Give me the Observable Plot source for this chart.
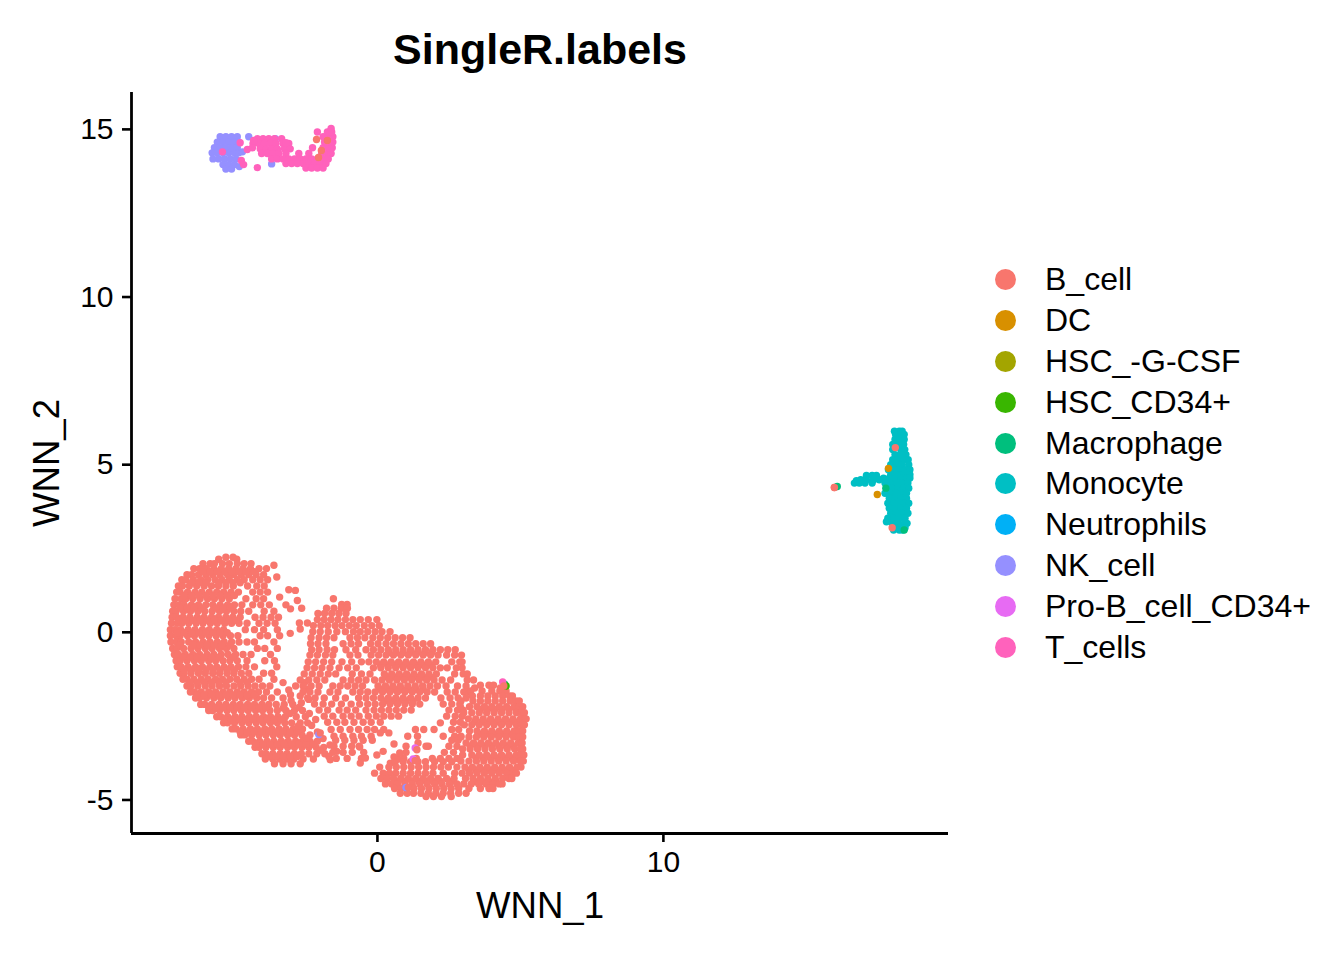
<!DOCTYPE html>
<html><head><meta charset="utf-8">
<script src="https://cdn.jsdelivr.net/npm/d3@7"></script>
<script src="https://cdn.jsdelivr.net/npm/@observablehq/plot@0.6"></script>
<style>
html,body{margin:0;background:#fff;font-family:"Liberation Sans",Arial,sans-serif;color:#000}
#title{width:1080px;height:92px;box-sizing:border-box;padding-top:24px;text-align:center;font-weight:bold;font-size:43px;line-height:50px}
#row{display:flex;width:1344px}
#legend{padding:167px 0 0 35px}
.item{display:flex;align-items:center;height:40.9px;font-size:32px;white-space:nowrap}
.sw{width:21px;height:21px;border-radius:50%;margin-right:29px;flex:none}
</style></head><body>
<div id="title"></div>
<div id="row"><div id="chart"></div><div id="legend"></div></div>
<script>
const chartTitle = "SingleR.labels";
const xLabel = "WNN_1", yLabel = "WNN_2";
const xTicks = [0, 10];
const yTicks = [-5, 0, 5, 10, 15];
const labels = ["B_cell","DC","HSC_-G-CSF","HSC_CD34+","Macrophage","Monocyte","Neutrophils","NK_cell","Pro-B_cell_CD34+","T_cells"];
const colors = ["#F8766D","#D89000","#A3A500","#39B600","#00BF7D","#00BFC4","#00B0F6","#9590FF","#E76BF3","#FF62BC"];

// rows: [y, x, x, x ...]
const bLeftLobe = [
[2.24,-5.3,-5.05],[2.18,-5.55,-4.92],
[2.05,-6.1,-5.85,-5.7,-5.42,-5.18,-4.9,-4.66,-4.42],
[1.9,-6.42,-6.22,-5.98,-5.72,-5.46,-5.2,-4.95,-4.7,-4.44,-4.14,-3.88],
[1.72,-6.66,-6.5,-6.26,-6,-5.76,-5.5,-5.24,-5.02,-4.76,-4.5,-4.24,-3.98],
[1.57,-6.84,-6.7,-6.44,-6.18,-5.94,-5.68,-5.44,-5.18,-4.9,-4.66,-4.36,-4.1,-3.84],
[1.38,-6.96,-6.82,-6.58,-6.32,-6.06,-5.8,-5.56,-5.3,-5.04,-4.54,-4.22,-3.96],
[1.2,-7.02,-6.9,-6.64,-6.38,-6.14,-5.88,-5.62,-5.38,-5.12,-4.86,-4.36,-4.1,-3.84],
[1.0,-7.08,-6.86,-6.7,-6.46,-6.2,-5.94,-5.7,-5.44,-5.18,-4.6,-4.24,-3.98],
[0.82,-7.12,-6.94,-6.76,-6.5,-6.26,-6,-5.76,-5.5,-5.24,-5,-4.74,-4.36,-4.08,-3.78],
[0.63,-7.16,-7.04,-6.78,-6.54,-6.28,-6.04,-5.78,-5.52,-5.28,-5.02,-4.78,-4.5,-3.96,-3.62],
[0.45,-7.18,-7.02,-6.8,-6.56,-6.3,-6.06,-5.8,-5.56,-5.3,-5.06,-4.8,-4.28,-4,-3.72,-3.46],
[0.27,-7.2,-7.0,-6.84,-6.6,-6.34,-6.1,-5.84,-5.6,-5.34,-5.1,-4.84,-4.56,-4.14,-3.86,-3.58],
[0.08,-7.24,-7.08,-6.88,-6.62,-6.38,-6.12,-5.88,-5.62,-5.38,-4.62,-4.3,-3.98,-3.5],
[-0.1,-7.24,-7.04,-6.9,-6.64,-6.4,-6.14,-5.9,-5.64,-5.4,-5.14,-4.88,-4.1,-3.84,-3.42],
[-0.29,-7.22,-7.02,-6.86,-6.6,-6.36,-6.1,-5.86,-5.6,-5.36,-5.1,-4.84,-4.56,-4.3,-3.62],
[-0.48,-7.16,-7.02,-6.78,-6.52,-6.28,-6.02,-5.78,-5.52,-5.28,-5.02,-4.2,-3.94,-3.5],
[-0.66,-7.1,-6.96,-6.72,-6.46,-6.22,-5.96,-5.72,-5.46,-5.22,-4.96,-4.7,-4.42,-3.74],
[-0.85,-7.04,-6.9,-6.66,-6.4,-6.16,-5.9,-5.66,-5.4,-5.16,-4.9,-4.56,-3.94,-3.6],
[-1.03,-7.0,-6.86,-6.62,-6.36,-6.12,-5.86,-5.62,-5.36,-5.12,-4.86,-4.6,-4.3,-3.52],
[-1.22,-6.9,-6.76,-6.52,-6.26,-6.02,-5.76,-5.52,-5.26,-5.02,-4.76,-4.5,-3.98,-3.7],
[-1.4,-6.8,-6.66,-6.42,-6.16,-5.92,-5.66,-5.42,-5.16,-4.92,-4.66,-4.4,-4.14,-3.62],
[-1.6,-6.66,-6.52,-6.28,-6.02,-5.78,-5.52,-5.28,-5.02,-4.78,-4.52,-4.28,-4.02,-3.76],
[-1.78,-6.54,-6.4,-6.16,-5.9,-5.66,-5.4,-5.16,-4.9,-4.66,-4.4,-4.16,-3.88,-3.5],
[-1.96,-6.36,-6.22,-5.98,-5.72,-5.48,-5.22,-4.98,-4.72,-4.48,-4.22,-3.98,-3.7,-3.3],
[-2.15,-6.18,-6.04,-5.8,-5.54,-5.3,-5.04,-4.8,-4.54,-4.3,-4.04,-3.8,-3.54,-3.26,-2.96],
[-2.33,-5.9,-5.76,-5.52,-5.26,-5.02,-4.76,-4.52,-4.26,-4.02,-3.76,-3.5,-3.2,-2.9,-2.62],
[-2.52,-5.62,-5.48,-5.24,-4.98,-4.74,-4.48,-4.24,-3.98,-3.74,-3.48,-3.22,-2.84,-2.52],
[-2.7,-5.38,-5.24,-5,-4.74,-4.5,-4.24,-4,-3.74,-3.5,-3.24,-3,-2.7,-2.44],
[-2.88,-5.08,-4.94,-4.7,-4.44,-4.2,-3.94,-3.7,-3.44,-3.2,-2.94,-2.62],
[-3.06,-4.78,-4.64,-4.4,-4.14,-3.9,-3.64,-3.4,-3.14,-2.9,-2.64,-2.36],
[-3.25,-4.5,-4.36,-4.12,-3.86,-3.62,-3.36,-3.12,-2.86,-2.62,-2.36,-2.1],
[-3.43,-4.28,-4.14,-3.9,-3.64,-3.4,-3.14,-2.9,-2.64,-2.4,-2.14,-1.88],
[-3.62,-4.04,-3.9,-3.66,-3.4,-3.16,-2.9,-2.66,-2.4,-2.12,-1.84],
[-3.78,-3.92,-3.66,-3.42,-3.16,-2.92,-2.6,-2.24],
[-3.92,-3.6,-3.3,-3.02,-2.7],
];
const bDenseFill = [
[1.81,-6.1,-5.85,-5.6,-5.33,-5.1,-4.85,-4.6,-4.3],
[1.48,-6.5,-6.25,-6,-5.55,-5.3,-5.05,-4.8],
[1.1,-6.75,-6.5,-6.25,-6,-5.75,-5.5,-5.25,-5],
[0.73,-6.9,-6.65,-6.4,-6.15,-5.65,-5.4,-5.15],
[0.36,-6.95,-6.7,-6.45,-6.2,-5.95,-5.7,-5.45,-5.2,-4.95],
[-0.01,-7,-6.75,-6.5,-6.25,-6,-5.75,-5.5,-5.25],
[-0.38,-6.9,-6.45,-6.2,-5.95,-5.7,-5.45,-5.15],
[-0.75,-6.8,-6.55,-6.3,-6.05,-5.8,-5.55,-5.05],
[-1.12,-6.75,-6.5,-6.25,-6,-5.75,-5.5,-5.25,-5],
[-1.5,-6.55,-6.3,-6.05,-5.8,-5.55,-5.3,-4.8,-4.55],
[-1.87,-6.3,-6.05,-5.8,-5.55,-5.3,-5.05,-4.8,-4.55,-4.3],
[-2.24,-5.9,-5.65,-5.4,-5.15,-4.9,-4.65,-4.4,-4.15,-3.9],
[-2.6,-5.35,-5.1,-4.85,-4.6,-4.35,-4.1,-3.85,-3.6,-3.35],
[-2.97,-4.8,-4.55,-4.3,-4.05,-3.8,-3.55,-3.3,-3.05,-2.8],
[-3.34,-4.25,-4,-3.75,-3.5,-3.25,-3,-2.75,-2.5],
[-3.7,-3.8,-3.55,-3.3,-3.05,-2.8],
[-0.6,0.4,0.65,0.9,1.15,1.4,1.65,1.9],
[-0.97,0.1,0.35,0.6,0.85,1.1,1.35,1.6,1.85],
[-1.33,0.35,0.6,0.85,1.1,1.35,1.6,1.85],
[-1.7,0.1,0.35,0.6,0.85,1.1,1.35,1.6],
[-2.05,0.25,0.5,0.75,1,1.25],
[-2.3,3.6,3.85,4.1,4.35,4.6,4.85],
[-2.67,3.4,3.65,3.9,4.15,4.4,4.65,4.9],
[-3.03,3.6,3.85,4.1,4.35,4.6,4.85],
[-3.39,3.25,3.5,3.75,4,4.25,4.5,4.75],
[-3.75,3.45,3.7,3.95,4.2,4.45,4.7,4.9],
[-4.11,3.2,3.45,3.7,3.95,4.2,4.45,4.7],
[-4.45,3.4,3.65,3.9,4.15],
[-4.44,0.7,0.95,1.2,1.45,1.7,1.95,2.2,2.6],
];
const bGapIsolated = [
[2.0,-3.62],[1.65,-3.52],[1.05,-3.42],[1.27,-3.1],[1.25,-2.87],[0.95,-2.8],[0.82,-3.2],[0.7,-3.04],[0.72,-2.65],
[0.1,-2.7],[0.28,-2.45],[0.28,-2.73],[-0.03,-3.05],
[-1.72,-3.1],[-1.5,-3.3],[-2.0,-2.4],[-1.9,-2.7],[-1.7,-2.42],[-1.5,-2.55],
[-2.03,-3.02],[-2.24,-2.74],[-2.42,-2.38],[-2.6,-2.16],[-2.78,-2.3],[-2.97,-2.1],[-3.17,-1.9],[-3.36,-1.66],[-3.55,-1.42],
[-2.1,-2.66],[-1.86,-3.04],[-2.26,-3.3],[-2.42,-3.06],[-2.8,-2.78],[-3.16,-2.5],[-3.34,-2.26],[-3.52,-2.02],[-3.7,-1.7],
];
const bMiddle = [
[1.0,-1.54],[0.83,-1.25,-1.06],
[0.72,-1.78,-1.52,-1.26,-1.05],
[0.56,-2.08,-1.85,-1.6,-1.35,-1.1],
[0.38,-2.1,-1.86,-1.62,-1.38,-1.12,-0.86,-0.6,-0.32,-0.02],
[0.2,-2.24,-1.98,-1.74,-1.48,-1.24,-0.98,-0.74,-0.46,-0.2,0.06],
[0.02,-2.26,-2,-1.72,-1.42,-1.12,-0.84,-0.6,-0.34,-0.08,0.16,0.44],
[-0.16,-2.32,-2.04,-1.78,-1.52,-0.96,-0.7,-0.44,-0.16,0.1,0.36,0.62,0.88,1.14],
[-0.34,-2.34,-2.08,-1.8,-1.2,-0.92,-0.66,-0.24,0.02,0.3,0.56,0.82,1.08,1.34,1.6,1.86],
[-0.52,-2.3,-2.04,-1.76,-1.5,-1.1,-0.76,-0.4,-0.14,0.12,0.38,0.64,0.9,1.16,1.42,1.68,1.94,2.2,2.46,2.72],
[-0.68,-2.36,-2.1,-1.82,-1.56,-0.96,-0.68,-0.22,0.04,0.3,0.56,0.82,1.08,1.34,1.6,1.86,2.12,2.42,2.7,2.94],
[-0.88,-2.42,-2.16,-1.88,-1.6,-1.24,-0.9,-0.56,-0.3,-0.04,0.22,0.48,0.74,1,1.26,1.52,1.78,2.04,2.6,2.88,2.96],
[-1.06,-2.46,-2.2,-1.94,-1.66,-1.34,-1.04,-0.74,-0.14,0.12,0.38,0.64,0.9,1.16,1.42,1.68,1.94,2.2,2.44,2.76,2.96],
[-1.24,-2.56,-2.28,-2,-1.72,-1.46,-0.88,-0.56,-0.26,0.24,0.5,0.76,1.02,1.28,1.54,1.8,2.06,2.7,3,3.14],
[-1.42,-2.7,-2.4,-2.12,-1.84,-1.2,-0.92,-0.66,-0.4,-0.1,0.16,0.42,0.68,0.94,1.2,1.46,1.72,1.98,2.26,2.56,3.14,3.36],
[-1.6,-2.86,-2.6,-2.32,-2.04,-1.56,-1.3,-1.04,-0.78,-0.52,0.02,0.28,0.54,0.8,1.06,1.32,1.58,1.84,2.1,2.4,2.8,3.1],
[-1.78,-2.6,-2.36,-2.08,-1.66,-1.38,-0.86,-0.6,-0.34,-0.08,0.18,0.44,0.7,0.96,1.22,1.48,1.74,2,2.44,2.72,3.02,3.2],
[-1.96,-2.44,-2.18,-1.86,-1.46,-1.12,-0.66,-0.4,-0.14,0.12,0.38,0.64,0.9,1.16,1.42,1.68,2.22,2.54,2.82,3.1],
[-2.14,-2.2,-1.9,-1.6,-1.26,-0.92,-0.62,-0.34,-0.08,0.18,0.44,0.7,0.96,1.22,1.48,2.3,2.6,2.88],
[-2.32,-2.04,-1.74,-1.34,-1.06,-0.76,-0.4,-0.12,0.14,0.4,0.66,0.92,1.18,2.5,2.8,3],
[-2.5,-1.86,-1.56,-1.2,-0.92,-0.64,-0.32,-0.04,0.22,0.48,0.74,2.42,2.72,2.96],
[-2.68,-1.74,-1.42,-1.14,-0.82,-0.5,-0.22,0.1,2.66,2.9],
[-2.9,-1.62,-1.3,-0.96,-0.66,-0.36,-0.1,0.22,1.33,1.62,1.98,2.6,2.84],
[-3.1,-1.52,-1.2,-0.86,-0.56,-0.22,1.06,1.4,2.3,2.7,2.92],
[-3.22,-1.46,-1.14,-0.82,-0.5,-0.18,2.6,2.82],
[-3.4,-1.52,-1.2,-0.9,-0.64,1,1.78,2.5,2.78],
[-3.58,-1.56,-1.2,-0.88,-0.48,1,2.34,2.66],
[-3.76,-1.44,-1.06,-0.56,0.92,1.36,1.92,2.2,2.5,2.78],
];
const bMiddleSparse = [
[-3.66,-0.02],[-3.33,0.58],[-3.55,0.2],[-3.9,-0.6],[-3.75,-0.42],[-3.8,-1.65],[-3.78,0.72],[-3.42,-0.62],[-3.9,0.45],
[-3.0,0.1],[-3.0,0.4],[-3.3,1.42],[-3.4,1.7],[-2.7,2.2],
];
const bRightLobe = [
[-1.58,3.6,3.9,4.06],[-1.66,4.3,3.4],
[-1.75,3.26,3.66,4,4.28,4.5],
[-1.9,3.32,3.6,3.86,4.12,4.38,4.62,4.72],
[-2.05,2.92,3.34,3.6,3.86,4.12,4.38,4.64,4.84,4.96],
[-2.22,2.9,3.22,3.48,3.74,4,4.26,4.52,4.78,4.96,5.08],
[-2.4,3.02,3.3,3.56,3.82,4.08,4.34,4.6,4.86,5.04,5.14],
[-2.58,3.18,3.44,3.7,3.96,4.22,4.48,4.74,5,5.16,5.2],
[-2.76,3.04,3.3,3.56,3.82,4.08,4.34,4.6,4.86,5.04,5.14],
[-2.94,3.22,3.48,3.74,4,4.26,4.52,4.78,4.94,5.08],
[-3.12,2.92,3.2,3.46,3.72,3.98,4.24,4.5,4.76,4.94,5.08],
[-3.3,3.1,3.36,3.62,3.88,4.14,4.4,4.66,4.92,5.06],
[-3.48,2.98,3.24,3.5,3.76,4.02,4.28,4.54,4.8,5.0,5.08],
[-3.66,2.98,3.3,3.56,3.82,4.08,4.34,4.6,4.86,5.02,5.12],
[-3.84,2.92,3.2,3.46,3.72,3.98,4.24,4.5,4.76,5.0,5.1],
[-4.02,2.78,3.06,3.32,3.58,3.84,4.1,4.36,4.62,4.88,5.02],
[-4.2,2.7,2.96,3.22,3.48,3.74,4,4.26,4.52,4.74,4.86],
[-4.36,3.08,3.34,3.6,3.86,4.12,4.38,4.6,4.7],
[-4.52,3.02,3.28,3.54,3.8,4.06,4.26,4.36],
[-4.66,3.2,3.6,3.9,4.04],
];
const bBottomArc = [
[-3.6,0.78],[-3.72,0.58],
[-3.86,0.62,0.9,1.16,1.42,1.68,2,2.3,2.6],
[-4.02,0.08,0.4,0.66,0.92,1.18,1.44,1.7,1.96,2.22,2.48],
[-4.2,-0.1,0.2,0.42,0.64,0.9,1.16,1.42,1.68,1.94,2.3],
[-4.36,0.12,0.34,0.56,0.82,1.08,1.34,1.6,1.86,2.12,2.42,2.68],
[-4.52,0.28,0.5,0.7,0.96,1.22,1.48,1.74,2,2.26,2.52,2.78],
[-4.66,0.6,0.82,1.02,1.28,1.54,1.8,2.06,2.32,2.58,2.84],
[-4.8,0.8,1.04,1.26,1.52,1.78,2.04,2.3,2.56,2.84,3.1],
[-4.9,1.7,1.96,2.24,2.58],
];
const bOutliers = [[4.32,15.98],[5.51,18.11],[3.12,18.0],[14.7,-2.13],[14.67,-1.75],[14.16,-2.06],[14.37,-1.96]];

const tCells = [
[14.72,-4.2,-4.0,-3.8,-3.6,-3.35],
[14.58,-4.35,-4.15,-3.95,-3.75,-3.55,-3.3,-3.1],
[14.42,-4.1,-3.9,-3.7,-3.5,-3.25,-3.05],
[14.28,-4.05,-3.85,-3.65,-3.45,-3.2,-2.75,-2.4,-1.95,-1.75,-1.62],
[14.12,-3.7,-3.5,-3.3,-3.1,-2.9,-2.7,-2.5,-2.3,-2.1,-1.9,-1.72],
[13.98,-3.2,-3.0,-2.8,-2.6,-2.4,-2.2,-2.0,-1.8],
[13.85,-2.5,-2.3,-2.1,-1.9],
[14.45,-2.27,-1.9,-1.7,-1.58],
[14.62,-1.85,-1.65,-1.56],
[14.78,-1.9,-1.7,-1.56],
[14.92,-2.1,-1.75,-1.6],
[15.03,-1.62],
[14.6,-4.8,-3.2],[14.07,-4.76],[13.95,-4.68],[13.86,-4.2],[14.33,-5.42],[14.4,-4.55],[14.45,-4.37],[14.67,-4.33],
];
const nkCells = [
[14.78,-5.5,-5.3,-5.1,-4.9],
[14.62,-5.6,-5.4,-5.2,-5.0,-4.85],
[14.45,-5.7,-5.5,-5.3,-5.1,-4.9],
[14.3,-5.78,-5.6,-5.4,-5.2,-5.0,-4.85],
[14.12,-5.75,-5.55,-5.35,-5.15,-4.95],
[13.95,-5.4,-5.2,-5.0],
[13.82,-5.3,-5.1],
[14.78,-4.5],[14.33,-4.72],[13.89,-4.83],[13.97,-3.7],[14.36,-3.5],[14.72,-3.57],
];
const monocytes = [
[6.0,18.08,18.25,18.35],[5.9,18.12,18.3,18.42],[5.75,18.1,18.28,18.42],[5.6,18.02,18.18,18.4],[5.45,18.02,18.3,18.44],
[5.3,18.1,18.3,18.48],[5.15,18.02,18.2,18.4,18.56],[5.0,17.95,18.15,18.35,18.58],[4.85,17.87,18.05,18.25,18.45,18.62],
[4.7,17.95,18.15,18.35,18.55,18.62],[4.6,17.7,17.9,18.1,18.3,18.5,18.62],[4.68,17.1,17.3,17.45],[4.55,16.9,17.1,17.35,17.55],
[4.45,16.68,16.85,17.05,17.3,17.75,17.95,18.15,18.35,18.55],[4.52,16.75,16.95],[4.3,17.8,18.0,18.2,18.4,18.58],
[4.15,17.75,17.95,18.15,18.35,18.5],[4.0,17.9,18.1,18.3,18.5],[3.85,17.85,18.05,18.25,18.45,18.58],[3.7,17.9,18.1,18.3,18.5],
[3.55,17.95,18.15,18.35,18.55],[3.4,17.85,18.05,18.25,18.45],[3.25,18.0,18.2,18.42,18.52],[3.12,18.1,18.3,18.45],[3.05,18.05,18.25,18.36],[3.3,17.8],
];
const dcCells = [[4.89,17.87],[4.11,17.48]];
const macrophages = [[4.35,16.08],[3.05,18.42],[4.3,17.78],[-1.55,4.45]];
const proB = [[-3.45,1.32],[-3.78,1.25]];
const hscCd34 = [[-1.6,4.5]];
const tExtra = [[-1.48,4.38]];
const nkExtra = [[-3.05,-2.05],[-4.63,1.0]];
const bOnTop = [[-3.5,1.38],[-3.83,1.32],[-4.63,1.08],[-1.6,4.42],[-3.0,-2.0],[4.32,15.98]];

const pts = (rows, k) => rows.flatMap(([y, ...xs]) => xs.map(x => ({x, y, k})));
const pairs = (list, k) => list.map(([y, x]) => ({x, y, k}));
const points = [
  ...pts(bLeftLobe,"B_cell"), ...pts(bDenseFill,"B_cell"), ...pairs(bGapIsolated,"B_cell"), ...pts(bMiddle,"B_cell"),
  ...pairs(bMiddleSparse,"B_cell"), ...pts(bRightLobe,"B_cell"), ...pts(bBottomArc,"B_cell"),
  ...pts(nkCells,"NK_cell"), ...pts(tCells,"T_cells"), ...pts(monocytes,"Monocyte"),
  ...pairs(bOutliers,"B_cell"),
  ...pairs(macrophages,"Macrophage"), ...pairs(dcCells,"DC"), ...pairs(hscCd34,"HSC_CD34+"),
  ...pairs(tExtra,"T_cells"), ...pairs(nkExtra,"NK_cell"), ...pairs(proB,"Pro-B_cell_CD34+"),
  ...pairs(bOnTop,"B_cell"),
];

document.getElementById("title").textContent = chartTitle;

const chart = Plot.plot({
  width: 960, height: 868,
  marginLeft: 131, marginRight: 12, marginTop: 0, marginBottom: 127,
  style: {background:"#fff", fontFamily:'"Liberation Sans",Arial,sans-serif', color:"#000", overflow:"visible"},
  x: {domain:[-8.6,19.97]},
  y: {domain:[-6.0,16.1]},
  color: {domain: labels, range: colors},
  marks: [
    Plot.dot(points, {x:"x", y:"y", fill:"k", r:3.7}),
    Plot.ruleX([-8.6], {strokeWidth:2.8, stroke:"#000"}),
    Plot.ruleY([-6.0], {strokeWidth:2.8, stroke:"#000"}),
    Plot.axisX({ticks:xTicks, tickFormat:d=>String(d), tickSize:9, tickPadding:8, strokeWidth:2.6, fontSize:30, label:null, stroke:"#000", fill:"#000"}),
    Plot.axisY({ticks:yTicks, tickFormat:d=>String(d), tickSize:9, tickPadding:9, strokeWidth:2.6, fontSize:30, label:null, stroke:"#000", fill:"#000"}),
    Plot.text([xLabel], {frameAnchor:"bottom", text:d=>d, fontSize:36.6, dy:84, fill:"#000"}),
    Plot.text([yLabel], {frameAnchor:"left", text:d=>d, fontSize:36.6, rotate:-90, dx:-84, textAnchor:"middle", fill:"#000"}),
  ]
});
document.getElementById("chart").append(chart);

const legend = document.getElementById("legend");
labels.forEach((l,i)=>{
  const it=document.createElement("div"); it.className="item";
  const s=document.createElement("span"); s.className="sw"; s.style.background=colors[i];
  const t=document.createElement("span"); t.textContent=l;
  it.append(s,t); legend.append(it);
});
</script>
</body></html>
